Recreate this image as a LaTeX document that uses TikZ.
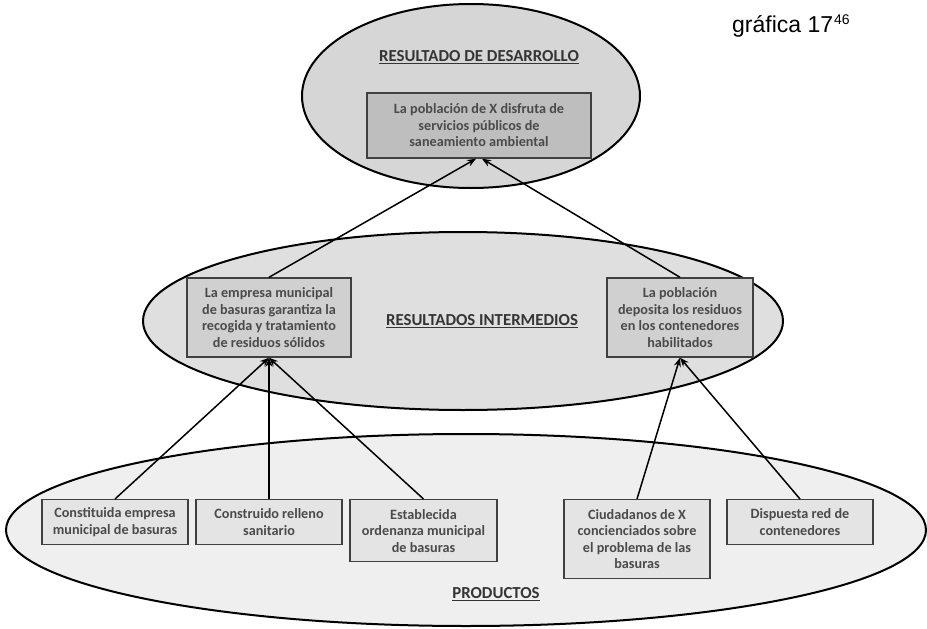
\documentclass[tikz,border=0pt]{standalone}
\usepackage{fontspec}
\setmainfont{Carlito}
\newfontfamily\headfont{Liberation Sans}
\usetikzlibrary{shapes.geometric,arrows.meta}

\definecolor{lvlonefill}{HTML}{D6D6D6}
\definecolor{lvlonebox}{HTML}{BEBEBE}
\definecolor{lvltwofill}{HTML}{DFDFDF}
\definecolor{lvltwobox}{HTML}{D0D0D0}
\definecolor{lvlthreefill}{HTML}{EFEFEF}
\definecolor{lvlthreebox}{HTML}{E4E4E4}
\definecolor{boxtext}{HTML}{4A4A4A}
\definecolor{titletext}{HTML}{353535}

\tikzset{
  x=1pt, y=-1pt,
  level/.style={ellipse, draw=black, line width=2pt, inner sep=0pt},
  goalbox/.style={rectangle, draw=black!75, line width=1.4pt, inner sep=2pt,
    align=center, text=boxtext, font=\bfseries\fontsize{14.2}{16.5}\selectfont},
  leveltitle/.style={text=titletext, font=\bfseries\fontsize{16.8}{19}\selectfont},
  arr/.style={-{Stealth[length=9pt,width=7pt]}, line width=1.5pt, black},
}

\begin{document}
\begin{tikzpicture}
\useasboundingbox (0,0) rectangle (927,629);

% levels of the results chain
\node[level, fill=lvlthreefill, minimum width=920, minimum height=192] (prodlevel) at (466,530) {};
\node[level, fill=lvltwofill, minimum width=640, minimum height=178] (intlevel) at (463,321) {};
\node[level, fill=lvlonefill, minimum width=338, minimum height=184] (devlevel) at (471,96) {};

% level titles
\node[leveltitle] (devtitle) at (479,57) {\underline{RESULTADO DE DESARROLLO}};
\node[leveltitle] (inttitle) at (482,321) {\underline{RESULTADOS INTERMEDIOS}};
\node[leveltitle] (prodtitle) at (496,594) {\underline{PRODUCTOS}};

% development result
\node[goalbox, fill=lvlonebox, minimum width=224, minimum height=65] (dev) at (479,125.5)
  {La población de X disfruta de\\servicios públicos de\\saneamiento ambiental};

% intermediate results
\node[goalbox, fill=lvltwobox, minimum width=164, minimum height=79] (intA) at (269,317.5)
  {La empresa municipal\\de basuras garantiza la\\recogida y tratamiento\\de residuos sólidos};
\node[goalbox, fill=lvltwobox, minimum width=146, minimum height=79] (intB) at (680,317.5)
  {La población\\deposita los residuos\\en los contenedores\\habilitados};

% products
\node[goalbox, fill=lvlthreebox, minimum width=146, minimum height=45, anchor=north] (prodA) at (115,499)
  {Constituida empresa\\municipal de basuras};
\node[goalbox, fill=lvlthreebox, minimum width=146, minimum height=45, anchor=north] (prodB) at (269,499)
  {Construido relleno\\sanitario};
\node[goalbox, fill=lvlthreebox, minimum width=147, minimum height=62, anchor=north] (prodC) at (423.5,499)
  {Establecida\\ordenanza municipal\\de basuras};
\node[goalbox, fill=lvlthreebox, minimum width=146, minimum height=79, anchor=north] (prodD) at (637,499)
  {Ciudadanos de X\\concienciados sobre\\el problema de las\\basuras};
\node[goalbox, fill=lvlthreebox, minimum width=146, minimum height=45, anchor=north] (prodE) at (800,499)
  {Dispuesta red de\\contenedores};

% causal links
\draw[arr] (prodA.north) -- (intA.south);
\draw[arr] (prodB.north) -- (intA.south);
\draw[arr] (prodC.north) -- (intA.south);
\draw[arr] (prodD.north) -- (intB.south);
\draw[arr] (prodE.north) -- (intB.south);
\draw[arr] (intA.north) -- ([xshift=-3pt]dev.south);
\draw[arr] (intB.north) -- ([xshift=3pt]dev.south);

% figure label
\node[anchor=base west, inner sep=0pt, font=\headfont\fontsize{23}{26}\selectfont, text=black] (figlabel) at (732,32)
  {gráfica 17\kern1pt\raisebox{7.5pt}{\fontsize{14}{14}\selectfont 46}};
\end{tikzpicture}
\end{document}
